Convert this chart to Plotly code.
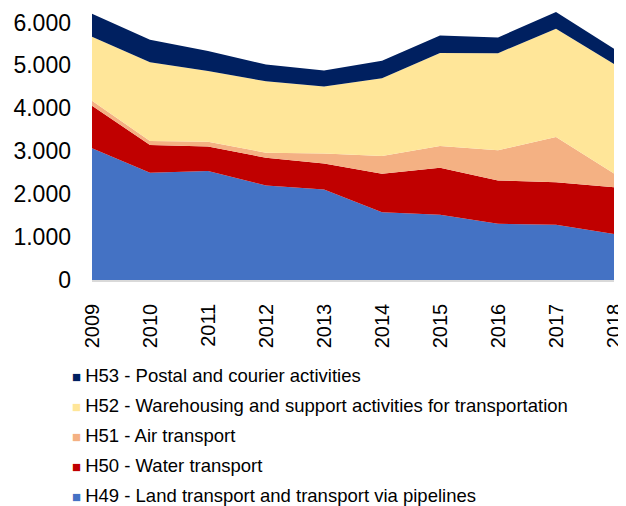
import plotly.graph_objects as go

years = [2009, 2010, 2011, 2012, 2013, 2014, 2015, 2016, 2017, 2018]
year_labels = [str(y) for y in years]

h49 = [3070, 2500, 2540, 2200, 2110, 1576, 1520, 1310, 1290, 1070]
h50 = [990, 646, 570, 650, 607, 900, 1095, 1008, 990, 1092]
h51 = [115, 94, 110, 117, 233, 413, 505, 703, 1054, 320]
h52 = [1495, 1835, 1650, 1663, 1560, 1812, 2170, 2264, 2522, 2553]
h53 = [536, 525, 465, 390, 370, 405, 407, 365, 390, 351]

series_names = [
    "H49 - Land transport and transport via pipelines",
    "H50 - Water transport",
    "H51 - Air transport",
    "H52 - Warehousing and support activities for transportation",
    "H53 - Postal and courier activities",
]
series_values = [h49, h50, h51, h52, h53]
colors = ["#4472C4", "#C00000", "#F4B183", "#FFE699", "#002060"]

y_ticks = [0, 1000, 2000, 3000, 4000, 5000, 6000]

fig = go.Figure()
for name, vals, col in zip(series_names, series_values, colors):
    fig.add_trace(go.Scatter(
        x=years, y=vals, mode="lines", stackgroup="one",
        line=dict(width=0, color=col), fillcolor=col,
        name=name, showlegend=False, hoverinfo="skip",
    ))
# legend entries, listed top-down as in the reference (H53 first);
# the coloured square sits right next to the label text, as in the reference
for i, (name, col) in enumerate(zip(series_names[::-1], colors[::-1])):
    label = f'<span style="color:{col};font-size:15px">■ </span>{name}'
    fig.add_trace(go.Scatter(
        x=[None], y=[None], mode="markers",
        marker=dict(symbol="square", size=1, color="rgba(0,0,0,0)"),
        name=label, showlegend=True, legendgroup=f"g{i}",
    ))

fig.update_layout(
    width=626, height=506,
    margin=dict(l=84, r=20, t=0, b=234),
    paper_bgcolor="white", plot_bgcolor="white",
    separators=",.",
    font=dict(family="Arial, Liberation Sans, sans-serif", color="#000000"),
    showlegend=True,
    legend=dict(
        orientation="v", traceorder="grouped",
        x=-0.115, xanchor="left", y=-0.2794, yanchor="top",
        font=dict(size=18.5, color="#000000"),
        bgcolor="rgba(0,0,0,0)", tracegroupgap=3, itemwidth=30,
    ),
    xaxis=dict(
        range=[2009, 2018], tickvals=years, ticktext=year_labels,
        tickangle=-90, tickfont=dict(size=20),
        showgrid=False, zeroline=False,
        showline=True, linecolor="#D9D9D9", linewidth=1.5,
        ticks="", ticklabelstandoff=14, automargin=False,
    ),
    yaxis=dict(
        range=[0, 6338], tickvals=y_ticks, tickformat=",d",
        tickfont=dict(size=23),
        showgrid=False, zeroline=False, showline=False,
        ticks="", ticklabelstandoff=20, automargin=False,
    ),
)

fig.write_html("out.html")
